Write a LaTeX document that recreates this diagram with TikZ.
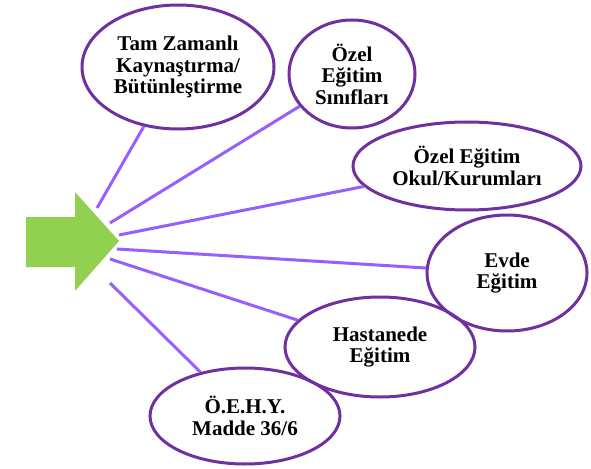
\documentclass[tikz,border=0pt]{standalone}
\usepackage{fontspec}
\setmainfont{Liberation Serif}
\usetikzlibrary{shapes.geometric}
\definecolor{arrowgreen}{RGB}{146,208,80}
\definecolor{ringpurple}{RGB}{112,48,160}
\definecolor{spokeviolet}{RGB}{150,96,255}
\tikzset{
	place/.style={ellipse,draw=ringpurple,line width=3pt,inner sep=0pt,align=center,
		font=\fontsize{21}{21.5}\selectfont\bfseries},
	spoke/.style={draw=spokeviolet,line width=3pt}
}
\begin{document}
\begin{tikzpicture}[x=1pt,y=-1pt]
	\useasboundingbox (0,0) rectangle (591,468);
	
	\fill[arrowgreen] (26,217) -- (75,217) -- (75,192) -- (119,241) -- (75,291) -- (75,267) -- (26,267) -- cycle;
	
	\node[place,minimum width=192,minimum height=124] (tam) at (178,67) {Tam Zamanlı\\Kaynaştırma/\\Bütünleştirme};
	\node[place,minimum width=126,minimum height=108] (sinif) at (352,74) {Özel\\Eğitim\\Sınıfları};
	\node[place,minimum width=228,minimum height=88] (okul) at (467,166) {Özel Eğitim\\Okul/Kurumları};
	\node[place,minimum width=160,minimum height=116] (evde) at (507,273) {Evde\\Eğitim};
	\node[place,minimum width=190,minimum height=100] (hastane) at (380,347) {Hastanede\\Eğitim};
	\node[place,minimum width=190,minimum height=96] (oehy) at (245,416) {Ö.E.H.Y.\\Madde 36/6};
	
	\coordinate (s1) at (97,208);
	\coordinate (s2) at (110,223);
	\coordinate (s3) at (119,235);
	\coordinate (s4) at (117,249);
	\coordinate (s5) at (110,259);
	\coordinate (s6) at (110,283);
	
	\draw[spoke] (s1) -- (tam);
	\draw[spoke] (s2) -- (sinif);
	\draw[spoke] (s3) -- (okul);
	\draw[spoke] (s4) -- (evde);
	\draw[spoke] (s5) -- (hastane);
	\draw[spoke] (s6) -- (oehy);
\end{tikzpicture}
\end{document}
